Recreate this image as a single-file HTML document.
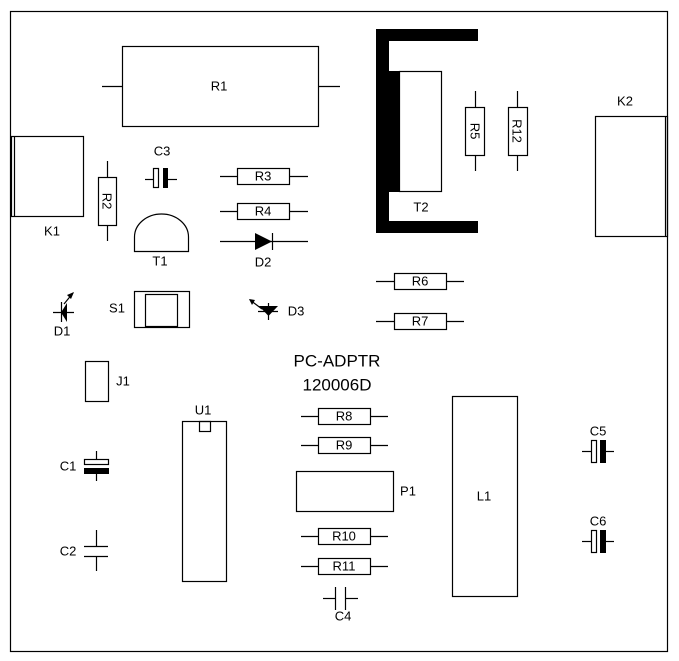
<!DOCTYPE html>
<html><head><meta charset="utf-8"><style>
html,body{margin:0;padding:0;background:#fff;width:679px;height:661px;overflow:hidden}
svg text{font-family:"Liberation Sans",sans-serif;font-size:13px;fill:#000;text-anchor:middle;dominant-baseline:central}
</style></head><body>
<svg width="679" height="661" viewBox="0 0 679 661" xmlns="http://www.w3.org/2000/svg">
<g fill="none" stroke="#000" stroke-width="1.2">
<rect x="10.5" y="11.5" width="657" height="640"/>
<!-- R1 -->
<rect x="122.5" y="46.5" width="196" height="80"/>
<line x1="102" y1="86.5" x2="122" y2="86.5"/><line x1="318" y1="86.5" x2="340" y2="86.5"/>
<!-- K1 -->
<rect x="11.5" y="136.5" width="72" height="80"/><line x1="14.5" y1="136" x2="14.5" y2="217"/>
<!-- R2 -->
<rect x="98.5" y="177.5" width="18" height="48"/>
<line x1="107.5" y1="161" x2="107.5" y2="177"/><line x1="107.5" y1="225" x2="107.5" y2="241"/>
<!-- C3 -->
<line x1="145" y1="179.5" x2="153" y2="179.5"/><line x1="167" y1="179.5" x2="177" y2="179.5"/>
<rect x="153.5" y="168.5" width="5" height="19"/>
<!-- R3 R4 -->
<rect x="237.5" y="168.5" width="52" height="16"/><line x1="220" y1="176.5" x2="237" y2="176.5"/><line x1="289" y1="176.5" x2="308" y2="176.5"/>
<rect x="237.5" y="203.5" width="52" height="16"/><line x1="220" y1="211.5" x2="237" y2="211.5"/><line x1="289" y1="211.5" x2="308" y2="211.5"/>
<!-- D2 -->
<line x1="220" y1="241.5" x2="308" y2="241.5"/><line x1="272.5" y1="233" x2="272.5" y2="250"/>
<!-- T1 -->
<path d="M134.5 251.5 L134.5 237 A27 23 0 0 1 188.5 237 L188.5 251.5 Z"/>
<!-- D1 -->
<line x1="53" y1="312.5" x2="74" y2="312.5"/><line x1="61.5" y1="302" x2="61.5" y2="322"/>
<line x1="64" y1="304" x2="73" y2="293"/>
<!-- S1 -->
<rect x="134.5" y="291.5" width="55" height="36"/><rect x="145.5" y="294.5" width="32" height="32"/>
<!-- D3 -->
<line x1="258" y1="311.5" x2="278" y2="311.5"/><line x1="268.5" y1="303" x2="268.5" y2="320"/>
<line x1="262" y1="309" x2="250" y2="300"/>
<!-- T2 inner -->
<rect x="399.5" y="71.5" width="42" height="120"/>
<!-- R5 R12 -->
<rect x="465.5" y="107.5" width="19" height="48"/><line x1="475.5" y1="91" x2="475.5" y2="107"/><line x1="475.5" y1="155" x2="475.5" y2="171"/>
<rect x="508.5" y="107.5" width="19" height="48"/><line x1="517.5" y1="91" x2="517.5" y2="107"/><line x1="517.5" y1="155" x2="517.5" y2="171"/>
<!-- K2 -->
<rect x="595.5" y="116.5" width="72" height="120"/><line x1="665.5" y1="116" x2="665.5" y2="237"/>
<!-- R6 R7 -->
<rect x="394.5" y="273.5" width="52" height="16"/><line x1="376" y1="281.5" x2="394" y2="281.5"/><line x1="446" y1="281.5" x2="464" y2="281.5"/>
<rect x="394.5" y="313.5" width="52" height="16"/><line x1="376" y1="321.5" x2="394" y2="321.5"/><line x1="446" y1="321.5" x2="464" y2="321.5"/>
<!-- J1 -->
<rect x="85.5" y="361.5" width="23" height="40"/>
<!-- U1 -->
<rect x="182.5" y="421.5" width="44" height="160"/><rect x="199.5" y="421.5" width="11" height="10"/>
<!-- C1 -->
<line x1="96.5" y1="451" x2="96.5" y2="459"/><line x1="96.5" y1="473" x2="96.5" y2="481"/>
<rect x="84.5" y="459.5" width="24" height="5"/>
<!-- C2 -->
<line x1="96.5" y1="530" x2="96.5" y2="546"/><line x1="96.5" y1="556" x2="96.5" y2="571"/>
<line x1="84" y1="546.5" x2="108" y2="546.5"/><line x1="84" y1="556.5" x2="108" y2="556.5"/>
<!-- R8 R9 -->
<rect x="318.5" y="408.5" width="52" height="16"/><line x1="301" y1="416.5" x2="318" y2="416.5"/><line x1="370" y1="416.5" x2="388" y2="416.5"/>
<rect x="318.5" y="437.5" width="52" height="16"/><line x1="301" y1="445.5" x2="318" y2="445.5"/><line x1="370" y1="445.5" x2="388" y2="445.5"/>
<!-- P1 -->
<rect x="296.5" y="471.5" width="97" height="40"/>
<!-- R10 R11 -->
<rect x="318.5" y="528.5" width="52" height="16"/><line x1="301" y1="536.5" x2="318" y2="536.5"/><line x1="370" y1="536.5" x2="388" y2="536.5"/>
<rect x="318.5" y="558.5" width="52" height="16"/><line x1="301" y1="566.5" x2="318" y2="566.5"/><line x1="370" y1="566.5" x2="388" y2="566.5"/>
<!-- C4 -->
<line x1="323" y1="598.5" x2="335" y2="598.5"/><line x1="345" y1="598.5" x2="358" y2="598.5"/>
<line x1="335.5" y1="587" x2="335.5" y2="610"/><line x1="345.5" y1="587" x2="345.5" y2="610"/>
<!-- L1 -->
<rect x="452.5" y="396.5" width="65" height="200"/>
<!-- C5 C6 -->
<line x1="582" y1="451.5" x2="591" y2="451.5"/><line x1="606" y1="451.5" x2="614" y2="451.5"/>
<rect x="591.5" y="440.5" width="5" height="22"/>
<line x1="582" y1="541.5" x2="591" y2="541.5"/><line x1="606" y1="541.5" x2="614" y2="541.5"/>
<rect x="591.5" y="530.5" width="5" height="22"/>
</g>
<g fill="#000">
<rect x="163" y="168" width="5" height="20"/>
<polygon points="255,233 255,250 272,241.5"/>
<polygon points="61,312.5 67,303 67,322"/>
<polygon points="74,292 67,295 71,299"/>
<polygon points="259,306 278,306 268.5,316"/>
<polygon points="249,299 252,305 255,300"/>
<path d="M376 29 H478 V41 H389 V71 H399 V192 H389 V221 H478 V233 H376 Z"/>
<rect x="84" y="468" width="25" height="6"/>
<rect x="600" y="440" width="6" height="23"/>
<rect x="600" y="530" width="6" height="23"/>
</g>
<text x="219" y="86">R1</text>
<text x="52" y="231">K1</text>
<text x="107" y="201" transform="rotate(90 107 201)">R2</text>
<text x="162" y="151">C3</text>
<text x="263" y="176">R3</text>
<text x="263" y="211">R4</text>
<text x="263" y="262">D2</text>
<text x="160" y="261">T1</text>
<text x="62" y="331">D1</text>
<text x="117" y="308">S1</text>
<text x="296" y="311">D3</text>
<text x="421" y="207">T2</text>
<text x="475" y="131" transform="rotate(90 475 131)">R5</text>
<text x="517" y="131" transform="rotate(90 517 131)">R12</text>
<text x="625" y="101">K2</text>
<text x="420" y="281">R6</text>
<text x="420" y="321">R7</text>
<text x="337" y="361" style="font-size:17px">PC-ADPTR</text>
<text x="337" y="385" style="font-size:17px">120006D</text>
<text x="123" y="381">J1</text>
<text x="203" y="410">U1</text>
<text x="68" y="466">C1</text>
<text x="68" y="551">C2</text>
<text x="344" y="416">R8</text>
<text x="344" y="445">R9</text>
<text x="408" y="491">P1</text>
<text x="344" y="536">R10</text>
<text x="344" y="566">R11</text>
<text x="343" y="616">C4</text>
<text x="484" y="496">L1</text>
<text x="598" y="431">C5</text>
<text x="598" y="521">C6</text>
</svg>
</body></html>
